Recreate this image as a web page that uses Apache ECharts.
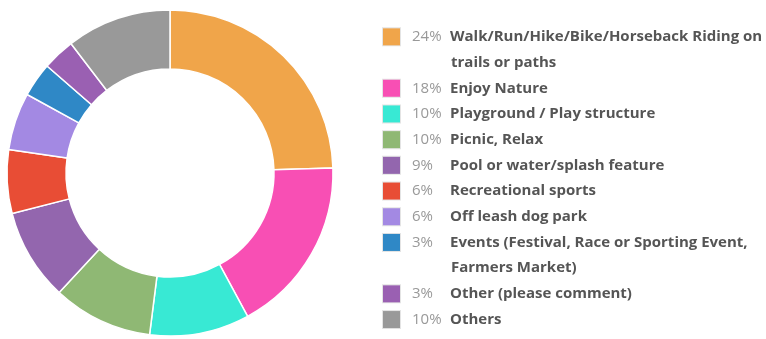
<!DOCTYPE html>
<html>
<head>
<meta charset="utf-8">
<script src="https://cdn.jsdelivr.net/npm/echarts@6/dist/echarts.min.js"></script>
<style>
  html, body { margin: 0; padding: 0; background: #fff; }
  #chart { width: 766px; height: 339px; }
</style>
</head>
<body>
<div id="chart"></div>
<script>
// slice values (percent of 360deg)
const names = [
  'Walk/Run/Hike/Bike/Horseback Riding on trails or paths',
  'Enjoy Nature',
  'Playground / Play structure',
  'Picnic, Relax',
  'Pool or water/splash feature',
  'Recreational sports',
  'Off leash dog park',
  'Events (Festival, Race or Sporting Event, Farmers Market)',
  'Other (please comment)',
  'Others'
]
const values = [24.5, 17.6, 9.9, 9.9, 9.1, 6.3, 5.7, 3.4, 3.2, 10.4]
const pctLabels = ['24%', '18%', '10%', '10%', '9%', '6%', '6%', '3%', '3%', '10%']
// legend text as it wraps in the picture
const legendLines = [
  ['Walk/Run/Hike/Bike/Horseback Riding on', 'trails or paths'],
  ['Enjoy Nature'],
  ['Playground / Play structure'],
  ['Picnic, Relax'],
  ['Pool or water/splash feature'],
  ['Recreational sports'],
  ['Off leash dog park'],
  ['Events (Festival, Race or Sporting Event,', 'Farmers Market)'],
  ['Other (please comment)'],
  ['Others']
]
const colors = ['#f0a54a', '#f84fb4', '#38e9d4', '#8fb874', '#9366ae',
  '#e84d35', '#a389e3', '#2f88c6', '#9a60b2', '#999999']

const LH = 25.7
const FS = 15
const rich = {
  // invisible box so every legend line takes a full row height
  g: { width: 12, height: LH, lineHeight: LH, backgroundColor: 'rgba(255,255,255,0)', verticalAlign: 'middle' },
  p: { width: 38, color: '#999', fontSize: FS, fontFamily: 'Open Sans', lineHeight: LH, verticalAlign: 'middle' },
  n: { color: '#555', fontSize: FS, fontWeight: 'bold', fontFamily: 'Open Sans', lineHeight: LH, verticalAlign: 'middle' },
  s: { width: 18, lineHeight: LH }
}
colors.forEach((c, i) => {
  rich['c' + i] = {
    width: 17,
    height: 17,
    backgroundColor: c,
    borderColor: '#e4e4e4',
    borderWidth: 1,
    lineHeight: LH,
    verticalAlign: 'middle'
  }
})

const chart = echarts.init(document.getElementById('chart'))
chart.setOption({
  animation: false,
  legend: {
    orient: 'vertical',
    left: 378,
    top: 24,
    padding: 0,
    itemGap: 0,
    itemWidth: 0,
    itemHeight: 14,
    icon: 'none',
    selectedMode: false,
    data: names,
    formatter: function (name) {
      const i = names.indexOf(name)
      const lines = legendLines[i]
      let txt = '{c' + i + '|}{g|}{p|' + pctLabels[i] + '}{n|' + lines[0] + '}'
      for (let k = 1; k < lines.length; k++) {
        txt += '\n{s|}{g|}{p|}{n|' + lines[k] + '}'
      }
      return txt
    },
    textStyle: { rich: rich }
  },
  series: [
    {
      type: 'pie',
      center: [170, 173],
      radius: [104, 163],
      startAngle: 90,
      clockwise: true,
      label: { show: false },
      labelLine: { show: false },
      emphasis: { disabled: true },
      itemStyle: { borderColor: '#fff', borderWidth: 1.5 },
      data: names.map((n, i) => ({
        name: n,
        value: values[i],
        itemStyle: { color: colors[i] }
      }))
    }
  ]
})
</script>
</body>
</html>
